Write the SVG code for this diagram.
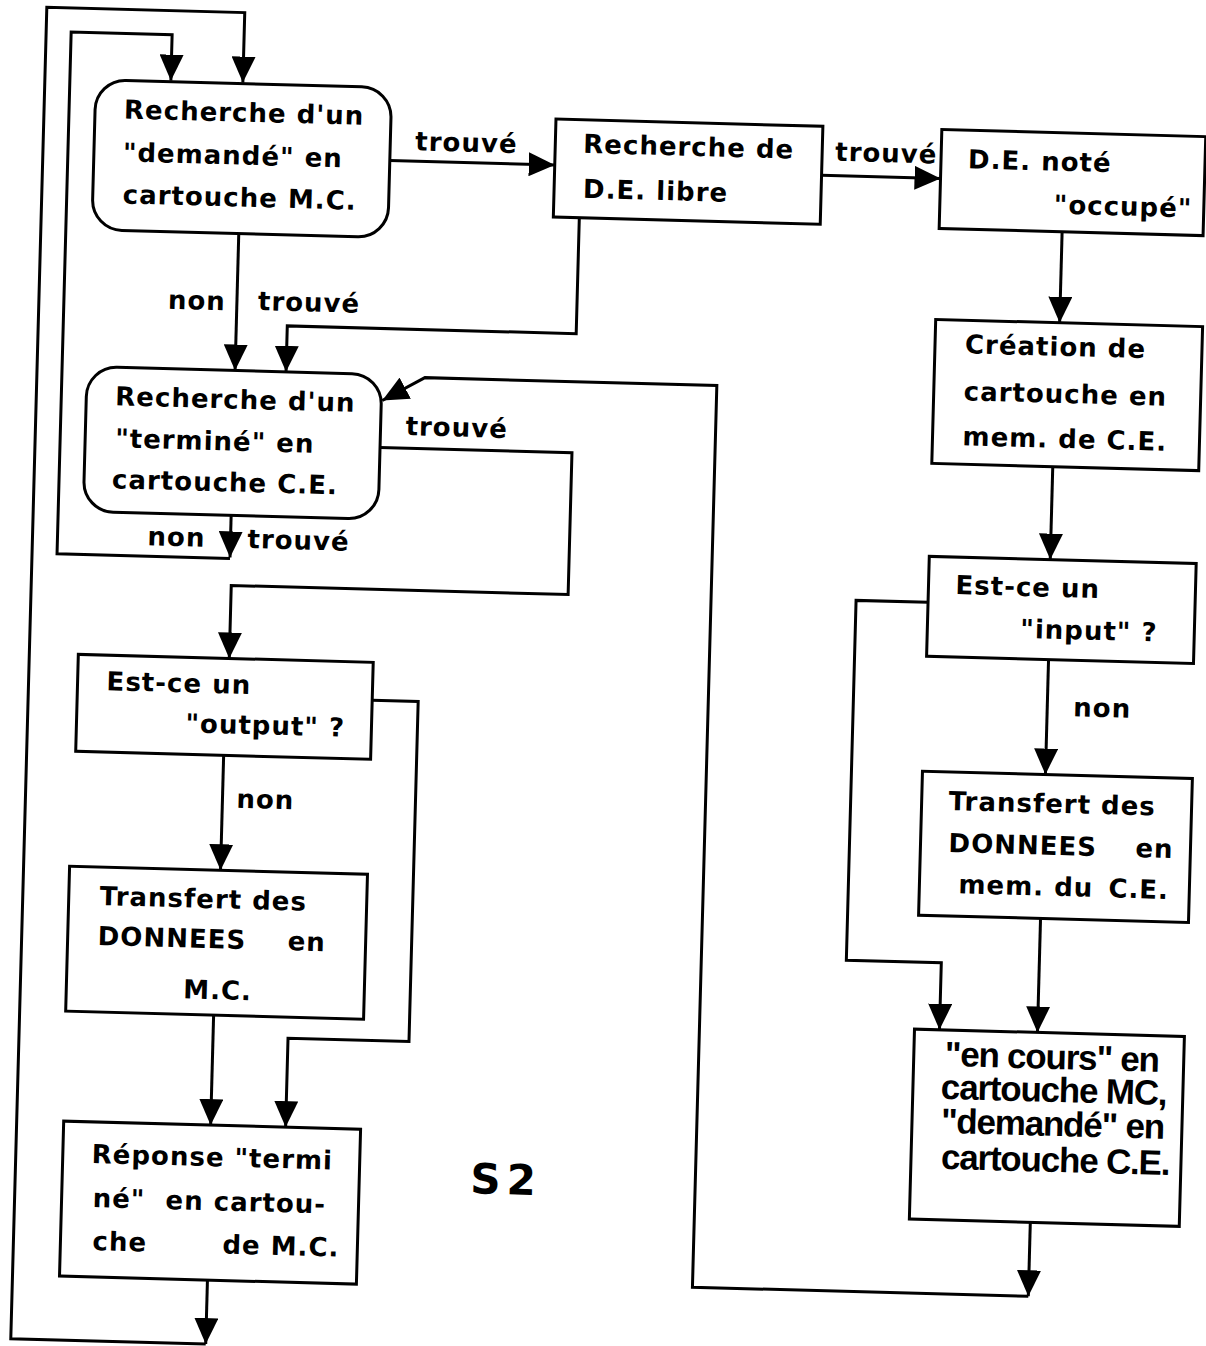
<svg xmlns="http://www.w3.org/2000/svg" width="1206" height="1346" viewBox="0 0 1206 1346">
<style>
.box{fill:#fff;stroke:#000;stroke-width:3}
.c{fill:none;stroke:#000;stroke-width:3;stroke-linejoin:miter}
.t{font-family:"DejaVu Sans",sans-serif;font-weight:bold;font-size:26px;letter-spacing:1px;fill:#000}
.h{font-family:"Liberation Sans",Arial,sans-serif;font-weight:bold;font-size:35px;letter-spacing:-1.2px;fill:#000}
.s2{font-family:"DejaVu Sans",sans-serif;font-weight:bold;font-size:42px;letter-spacing:6px;fill:#000}
</style>
<defs>
<marker id="ah" markerUnits="userSpaceOnUse" markerWidth="26" markerHeight="24" viewBox="0 0 26 24" refX="26" refY="12" orient="auto">
<path d="M0,0 L26,12 L0,24 z" fill="#000"/>
</marker>
</defs>
<rect width="1206" height="1346" fill="#fff"/>
<g transform="rotate(1.55)">
<g id="connectors">
<path class="c" d="M242,1274 V1338" marker-end="url(#ah)"/>
<path class="c" d="M242,1338 H47 V6 H245 V76" marker-end="url(#ah)"/>
<path class="c" d="M245,509 V551" marker-end="url(#ah)"/>
<path class="c" d="M245,552 H72 V30 H173 V76" marker-end="url(#ah)"/>
<path class="c" d="M245,227 V364" marker-end="url(#ah)"/>
<path class="c" d="M394,150 H559" marker-end="url(#ah)"/>
<path class="c" d="M585,202 V318 H296 V364" marker-end="url(#ah)"/>
<path class="c" d="M826,153 H945" marker-end="url(#ah)"/>
<path class="c" d="M1068,203 V294" marker-end="url(#ah)"/>
<path class="c" d="M1065,438 V531" marker-end="url(#ah)"/>
<path class="c" d="M1066,631 V746" marker-end="url(#ah)"/>
<path class="c" d="M944,577 H872 V937 H967 V1004" marker-end="url(#ah)"/>
<path class="c" d="M1065,890 V1004" marker-end="url(#ah)"/>
<path class="c" d="M1063,1194 V1268" marker-end="url(#ah)"/>
<path class="c" d="M1063,1268 H727 V366 H435 L393,390" marker-end="url(#ah)"/>
<path class="c" d="M392,437 H584 V579 H247 V652" marker-end="url(#ah)"/>
<path class="c" d="M244,749 V864" marker-end="url(#ah)"/>
<path class="c" d="M391,690 H437 V1030 H316 V1119" marker-end="url(#ah)"/>
<path class="c" d="M241,1009 V1119" marker-end="url(#ah)"/>
</g>
<g id="labels">
<text class="t" x="419" y="139">trouvé</text>
<text class="t" x="839" y="138">trouvé</text>
<text class="t" x="176" y="304">non</text>
<text class="t" x="266" y="303">trouvé</text>
<text class="t" x="417" y="424">trouvé</text>
<text class="t" x="162" y="541">non</text>
<text class="t" x="262" y="541">trouvé</text>
<text class="t" x="258" y="801">non</text>
<text class="t" x="1092" y="687">non</text>
<text class="s2" x="502" y="1180">S2</text>
</g>
<g id="nodeA">
<rect class="box" x="98" y="77" width="296" height="150" rx="30"/>
<text class="t" x="127" y="115">Recherche d'un</text>
<text class="t" x="127" y="158">"demandé" en</text>
<text class="t" x="128" y="200">cartouche M.C.</text>
</g>
<g id="nodeB">
<rect class="box" x="559" y="104" width="267" height="98"/>
<text class="t" x="587" y="137">Recherche de</text>
<text class="t" x="588" y="182">D.E. libre</text>
</g>
<g id="nodeG">
<rect class="box" x="945" y="104" width="264" height="99"/>
<text class="t" x="972" y="142">D.E. noté</text>
<text class="t" x="1059" y="185">"occupé"</text>
</g>
<g id="nodeC">
<rect class="box" x="97" y="364" width="295" height="145" rx="30"/>
<text class="t" x="126" y="402">Recherche d'un</text>
<text class="t" x="127" y="444">"terminé" en</text>
<text class="t" x="125" y="485">cartouche C.E.</text>
</g>
<g id="nodeH">
<rect class="box" x="944" y="294" width="267" height="144"/>
<text class="t" x="974" y="327">Création de</text>
<text class="t" x="974" y="374">cartouche en</text>
<text class="t" x="974" y="419">mem. de C.E.</text>
</g>
<g id="nodeD">
<rect class="box" x="96" y="652" width="295" height="97"/>
<text class="t" x="125" y="687">Est-ce un</text>
<text class="t" x="205" y="727">"output" ?</text>
</g>
<g id="nodeI">
<rect class="box" x="944" y="531" width="267" height="100"/>
<text class="t" x="971" y="568">Est-ce un</text>
<text class="t" x="1037" y="610">"input" ?</text>
</g>
<g id="nodeE">
<rect class="box" x="93" y="864" width="298" height="145"/>
<text class="t" x="124" y="902">Transfert des</text>
<text class="t" y="942"><tspan x="123">DONNEES</tspan><tspan x="313">en</tspan></text>
<text class="t" x="210" y="993">M.C.</text>
</g>
<g id="nodeK">
<rect class="box" x="943" y="746" width="270" height="144"/>
<text class="t" x="970" y="784">Transfert des</text>
<text class="t" y="826"><tspan x="971">DONNEES</tspan><tspan x="1158">en</tspan></text>
<text class="t" y="867"><tspan x="982">mem. du</tspan><tspan x="1132">C.E.</tspan></text>
</g>
<g id="nodeF">
<rect class="box" x="94" y="1119" width="297" height="155"/>
<text class="t" x="123" y="1160">Réponse "termi</text>
<text class="t" y="1204"><tspan x="125">né"</tspan><tspan x="198">en cartou-</tspan></text>
<text class="t" y="1247"><tspan x="126">che</tspan><tspan x="256">de M.C.</tspan></text>
</g>
<g id="nodeJ">
<rect class="box" x="942" y="1004" width="270" height="190"/>
<text class="h" x="973" y="1040">"en cours" en</text>
<text class="h" x="970" y="1073">cartouche MC,</text>
<text class="h" x="971" y="1107">"demandé" en</text>
<text class="h" x="972" y="1143">cartouche C.E.</text>
</g>
</g>
</svg>
